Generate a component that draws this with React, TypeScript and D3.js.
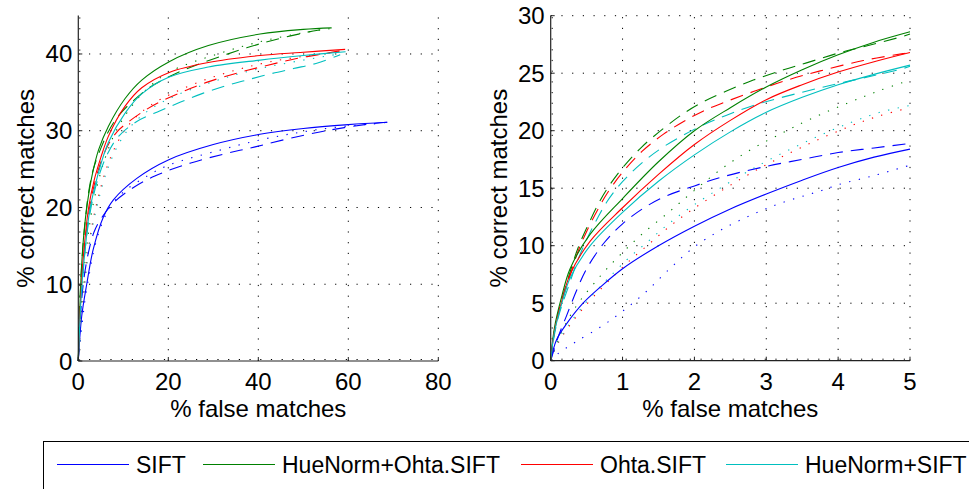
import React from "react";
import * as d3 from "d3";

type P = [number, number];

// ---------- Left panel (full range) ----------
const leftXTicks = [0, 20, 40, 60, 80];
const leftYTicks = [0, 10, 20, 30, 40];

const leftSiftSolid: P[] = [[0,0],[0.75,5.8],[1.9,10.1],[3.3,14.5],[5.6,18.8],[7.8,21],[13,23.8],[20,26.2],[30,28.2],[40,29.5],[50,30.3],[60,30.8],[68.7,31.1]];
const leftSiftDashed: P[] = [[0,0],[0.5,6],[1.2,10.5],[2.2,14],[3.5,16.8],[5,18.5],[8,20.7],[12,22.5],[17,24.1],[25,25.8],[32.6,27],[39.3,27.9],[47,29.0],[56,30.1],[65,30.9],[68.7,31.1]];
const leftSiftDotted: P[] = [[0,0],[0.7,4],[1.5,8],[2.5,11.5],[3.5,14.5],[5,17.5],[7,20],[10,22],[15,24],[20,25.5],[31,27.4],[40.4,28.8],[49.3,29.8],[58,30.5],[68,31]];

const leftHOSolid: P[] = [[0,0],[0.3,6],[0.7,12],[1.3,17],[2,20.5],[3,24],[4.5,27.5],[6.7,30.6],[10.4,34.2],[14.1,36.6],[20.2,39],[28.9,41.1],[40.4,42.6],[50,43.2],[56.3,43.4]];
const leftHODashed: P[] = [[0,0],[0.3,7],[0.8,13],[1.5,18],[2.3,22],[3.3,24.9],[5,27.7],[6.7,29.9],[9,32],[12.2,33.9],[16,35.7],[21.1,37.3],[26,38.5],[32.2,39.8],[37.4,40.8],[43.3,41.8],[52.2,43],[55.2,43.3]];
const leftHODotted: P[] = [[0,0],[0.5,5],[1,10],[2,15.5],[3,19.5],[4.5,23.5],[6,26.5],[8,29.5],[11,32.5],[15,35.3],[20.4,37.7],[31.5,40.1],[40.4,41.6],[49.3,42.7],[56,43.3]];

const leftOSolid: P[] = [[0,0],[0.3,5],[0.8,11],[1.5,16],[2.3,20],[3.5,23.5],[5,26.5],[6.7,29.3],[10.4,33.2],[14.1,35.6],[20.2,37.6],[28.9,38.9],[40.4,39.8],[49.3,40.2],[59.3,40.6]];
const leftODashed: P[] = [[0,0],[0.4,6],[1,12],[1.8,17],[3,21.5],[4.5,25],[6.5,28],[8.5,29.8],[10.8,31],[15.2,32.8],[19,34],[24.1,35.3],[28.5,36.3],[35.2,37.5],[41.9,38.5],[48.5,39.4],[55.2,40.1],[58.9,40.5]];
const leftODotted: P[] = [[0,0],[0.5,4],[1.2,9],[2,13.5],[3,17.5],[4.5,21.5],[6.5,25.5],[9,28.8],[12,31.3],[16,33.3],[21,34.9],[28,36.6],[35,37.9],[42,38.9],[50,39.7],[58,40.3]];

const leftHSolid: P[] = [[0,0],[0.3,4.5],[0.8,10],[1.6,15],[2.5,19.5],[3.8,23],[5,25.6],[6.7,28.5],[10.4,32.3],[14.1,34.8],[20.2,37],[28.9,38.3],[40.4,39.2],[50,39.8],[59.4,40.3]];
const leftHDashed: P[] = [[0,0],[0.4,5.5],[1,11],[1.8,16],[3,20.5],[4.5,24],[6.5,27],[9,29.3],[13,31.2],[18.2,32.6],[22.6,33.7],[27.8,34.9],[33,35.9],[37.4,36.6],[42.6,37.4],[47.8,38.1],[53,38.8],[58.2,39.9]];
const leftHDotted: P[] = [[0,0],[0.5,3.5],[1.2,8.5],[2,13],[3,17],[4.5,21],[6.5,25],[9,28.3],[12,30.8],[16,32.8],[21,34.4],[28,36],[35,37.3],[42,38.3],[50,39.2],[58,40]];

// ---------- Right panel (zoom 0–5 %) ----------
const rightXTicks = [0, 1, 2, 3, 4, 5];
const rightYTicks = [0, 5, 10, 15, 20, 25, 30];

const rightSiftSolid: P[] = [[0,0],[0.08,1.8],[0.22,3.2],[0.45,5],[0.69,6.4],[1,8],[1.5,10],[2,11.7],[2.5,13.2],[3,14.5],[3.5,15.7],[4,16.8],[4.5,17.7],[5,18.4]];
const rightSiftDashed: P[] = [[0,0],[0.1,2],[0.22,3.9],[0.36,6.1],[0.5,8],[0.75,10.3],[1,11.9],[1.3,13.3],[1.6,14.3],[2,15.2],[2.4,16],[3,16.9],[3.5,17.5],[4,18.1],[4.5,18.5],[5,18.9]];
const rightSiftDotted: P[] = [[0,0],[0.1,0.6],[0.34,1.6],[0.71,3],[1,4.3],[1.31,5.9],[1.64,7.9],[2,9.9],[2.38,11.4],[2.8,12.7],[3.2,13.7],[3.77,14.8],[4,15.3],[4.5,16.1],[5,17]];

const rightHOSolid: P[] = [[0,0],[0.05,2.8],[0.15,5.5],[0.27,8],[0.55,11],[1,14.1],[1.5,17.3],[2,20],[2.5,22],[3,23.8],[3.5,25.3],[4,26.6],[4.5,27.7],[5,28.6]];
const rightHODashed: P[] = [[0,0],[0.05,2.5],[0.12,4.5],[0.25,7.3],[0.38,9.8],[0.52,11.8],[0.66,13.6],[0.78,14.9],[0.99,16.7],[1.27,18.6],[1.57,20.2],[1.85,21.5],[2.12,22.5],[2.43,23.4],[2.82,24.4],[3.24,25.3],[3.56,25.9],[4.03,26.8],[4.35,27.3],[4.9,28.2],[5,28.4]];
const rightHODotted: P[] = [[0,0],[0.1,1.8],[0.34,4.6],[0.71,7.5],[1,9.4],[1.27,11],[1.64,12.9],[1.96,14.6],[2.36,16.6],[2.77,18.3],[3.19,19.7],[3.61,21],[4.17,22.5],[4.58,23.5],[5,24.4]];

const rightOSolid: P[] = [[0,0],[0.05,2.5],[0.15,5.1],[0.27,7.5],[0.55,10.4],[1,13.3],[1.5,16.2],[2,18.8],[2.5,20.9],[3,22.7],[3.5,24],[4,25.1],[4.5,26],[5,26.8]];
const rightODashed: P[] = [[0,0],[0.05,2.4],[0.12,4.4],[0.25,7],[0.38,9.5],[0.52,11.5],[0.66,13.2],[0.78,14.5],[0.99,16.3],[1.27,18.2],[1.57,19.7],[1.85,20.8],[2.12,21.7],[2.43,22.5],[2.82,23.4],[3.24,24.3],[3.75,25.2],[4.35,26.1],[4.9,26.7],[5,26.8]];
const rightODotted: P[] = [[0,0],[0.1,1.5],[0.43,4.4],[1.03,8.3],[1.36,10.1],[1.64,11.6],[1.96,13.1],[2.33,14.6],[2.7,16],[3.05,17.2],[3.61,18.9],[4.17,20.4],[4.58,21.3],[5,22]];

const rightHSolid: P[] = [[0,0],[0.05,2.4],[0.15,4.9],[0.27,7.2],[0.55,10],[1,12.9],[1.5,15.6],[2,17.9],[2.5,19.9],[3,21.6],[3.5,22.9],[4,24],[4.5,24.9],[5,25.7]];
const rightHDashed: P[] = [[0,0],[0.05,2.2],[0.12,4.1],[0.25,6.5],[0.38,8.8],[0.52,10.8],[0.66,12.5],[0.78,13.8],[0.99,15.5],[1.27,17.2],[1.57,18.6],[2.12,20.5],[2.43,21.3],[2.82,22.2],[3.47,23.3],[4,24.1],[4.5,24.8],[4.9,25.4],[5,25.6]];
const rightHDotted: P[] = [[0,0],[0.1,1.6],[0.43,4.6],[1.03,8.6],[1.36,10.4],[1.64,11.9],[1.96,13.4],[2.33,14.9],[2.7,16.3],[3.05,17.5],[3.61,19.2],[4.17,20.7],[4.58,21.6],[5,22.2]];

const legendLabels = ["SIFT", "HueNorm+Ohta.SIFT", "Ohta.SIFT", "HueNorm+SIFT"];
const colors = ["#0000ff", "#008000", "#ff0000", "#00bfbf"];

const FONT = "'Liberation Sans', Arial, Helvetica, sans-serif";
const DASH = { solid: undefined, dashed: "13,8", dotted: "1.3,8.5" } as const;

type Series = { data: P[]; color: string; style: keyof typeof DASH };

const leftSeries: Series[] = [
  { data: leftSiftDotted, color: colors[0], style: "dotted" },
  { data: leftHODotted, color: colors[1], style: "dotted" },
  { data: leftODotted, color: colors[2], style: "dotted" },
  { data: leftHDotted, color: colors[3], style: "dotted" },
  { data: leftSiftDashed, color: colors[0], style: "dashed" },
  { data: leftHODashed, color: colors[1], style: "dashed" },
  { data: leftODashed, color: colors[2], style: "dashed" },
  { data: leftHDashed, color: colors[3], style: "dashed" },
  { data: leftSiftSolid, color: colors[0], style: "solid" },
  { data: leftHOSolid, color: colors[1], style: "solid" },
  { data: leftOSolid, color: colors[2], style: "solid" },
  { data: leftHSolid, color: colors[3], style: "solid" },
];
const rightSeries: Series[] = [
  { data: rightSiftDotted, color: colors[0], style: "dotted" },
  { data: rightHODotted, color: colors[1], style: "dotted" },
  { data: rightODotted, color: colors[2], style: "dotted" },
  { data: rightHDotted, color: colors[3], style: "dotted" },
  { data: rightSiftDashed, color: colors[0], style: "dashed" },
  { data: rightHODashed, color: colors[1], style: "dashed" },
  { data: rightODashed, color: colors[2], style: "dashed" },
  { data: rightHDashed, color: colors[3], style: "dashed" },
  { data: rightSiftSolid, color: colors[0], style: "solid" },
  { data: rightHOSolid, color: colors[1], style: "solid" },
  { data: rightOSolid, color: colors[2], style: "solid" },
  { data: rightHSolid, color: colors[3], style: "solid" },
];

type PanelProps = {
  x0: number; x1: number; yBottom: number; yTop: number;
  xDomain: [number, number]; yDomain: [number, number];
  xTicks: number[]; yTicks: number[]; series: Series[];
};

function Panel({ x0, x1, yBottom, yTop, xDomain, yDomain, xTicks, yTicks, series }: PanelProps) {
  const xs = d3.scaleLinear().domain(xDomain).range([x0, x1]);
  const ys = d3.scaleLinear().domain(yDomain).range([yBottom, yTop]);
  const line = d3.line<P>().x(d => xs(d[0])).y(d => ys(d[1])).curve(d3.curveCatmullRom.alpha(0.5));
  const gridDash = "1.2,9.5";
  const fs = 24;
  return (
    <g>
      {xTicks.map(t => (
        <line key={"gx" + t} x1={xs(t) + (t === xDomain[0] ? 1.5 : 0)} x2={xs(t) + (t === xDomain[0] ? 1.5 : 0)} y1={yBottom} y2={yTop}
          stroke="#000" strokeWidth={1} strokeDasharray={gridDash} />
      ))}
      {yTicks.map(t => (
        <line key={"gy" + t} y1={ys(t) - (t === yDomain[0] ? 1.5 : 0)} y2={ys(t) - (t === yDomain[0] ? 1.5 : 0)} x1={x0} x2={x1}
          stroke="#000" strokeWidth={1} strokeDasharray={gridDash} />
      ))}
      {series.map((s, i) => (
        <path key={i} d={line(s.data) || ""} fill="none" stroke={s.color} strokeWidth={1.1}
          strokeDasharray={DASH[s.style]} />
      ))}
      <line x1={x0} x2={x1} y1={yBottom} y2={yBottom} stroke="#222" strokeWidth={1.2} />
      <line x1={x0} x2={x0} y1={yBottom} y2={yTop} stroke="#222" strokeWidth={1.2} />
      {xTicks.map(t => (
        <line key={"tx" + t} x1={xs(t)} x2={xs(t)} y1={yBottom} y2={yBottom - 4} stroke="#222" strokeWidth={1} />
      ))}
      {yTicks.map(t => (
        <line key={"ty" + t} x1={x0} x2={x0 + 4} y1={ys(t)} y2={ys(t)} stroke="#222" strokeWidth={1} />
      ))}
      {xTicks.map(t => (
        <text key={"lx" + t} x={xs(t)} y={yBottom + 29} textAnchor="middle" fontSize={fs} fontFamily={FONT} fill="#000">{t}</text>
      ))}
      {yTicks.map(t => (
        <text key={"ly" + t} x={x0 - 6} y={ys(t) + 8.5} textAnchor="end" fontSize={fs} fontFamily={FONT} fill="#000">{t}</text>
      ))}
      <text x={(x0 + x1) / 2} y={yBottom + 56} textAnchor="middle" fontSize={fs} fontFamily={FONT} fill="#000">% false matches</text>
      <text transform={`translate(${x0 - 44},${(yBottom + yTop) / 2}) rotate(-90)`} textAnchor="middle" fontSize={fs} fontFamily={FONT} fill="#000">% correct matches</text>
    </g>
  );
}

const legendLineX = [57, 203, 521, 726];

export default function App() {
  return (
    <svg width={969} height={489} style={{ position: "absolute", left: 0, top: 0, background: "#fff" }}>
      <rect x={0} y={0} width={969} height={489} fill="#fff" />
      <Panel x0={78.3} x1={438.3} yBottom={361} yTop={15.6} xDomain={[0, 80]} yDomain={[0, 45]}
        xTicks={leftXTicks} yTicks={leftYTicks} series={leftSeries} />
      <Panel x0={550.7} x1={910} yBottom={360.7} yTop={15.7} xDomain={[0, 5]} yDomain={[0, 30]}
        xTicks={rightXTicks} yTicks={rightYTicks} series={rightSeries} />
      <rect x={43.5} y={441.5} width={1000} height={100} fill="#fff" stroke="#000" strokeWidth={1} />
      {legendLabels.map((lab, i) => (
        <g key={lab}>
          <line x1={legendLineX[i]} x2={legendLineX[i] + 72} y1={464.5} y2={464.5} stroke={colors[i]} strokeWidth={1.1} />
          <text x={legendLineX[i] + 79} y={473} fontSize={23} fontFamily={FONT} fill="#000">{lab}</text>
        </g>
      ))}
    </svg>
  );
}
